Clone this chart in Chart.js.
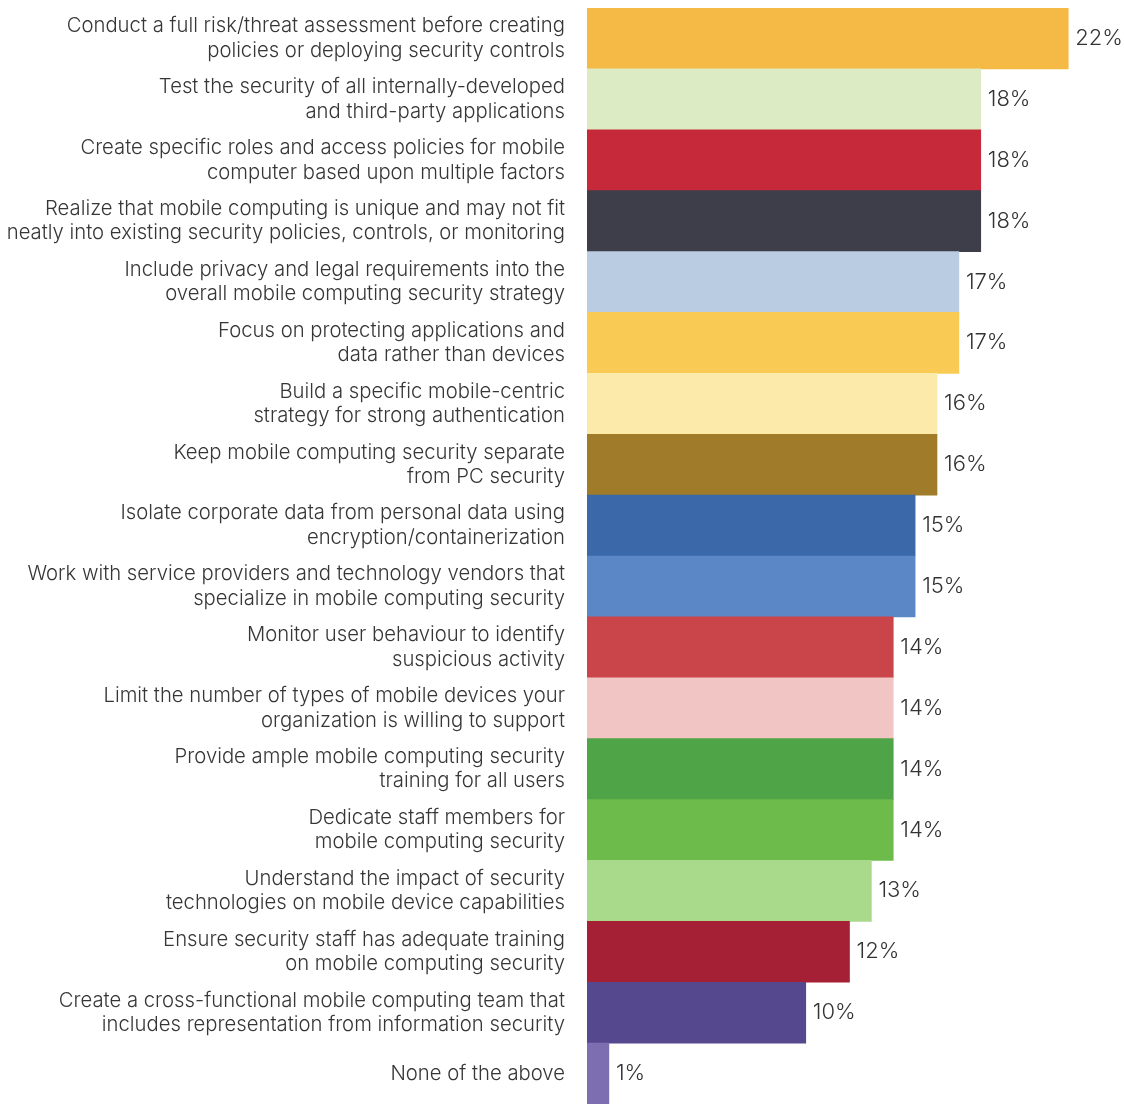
<!DOCTYPE html>
<html>
<head>
<meta charset="utf-8">
<script src="https://cdn.jsdelivr.net/npm/chart.js@4.4.1/dist/chart.umd.min.js"></script>
<style>
  html, body { margin: 0; padding: 0; background: #ffffff; }
  #wrap { width: 1124px; height: 1104px; position: relative; }
</style>
</head>
<body>
<div id="wrap"><canvas id="grafico"></canvas></div>
<script>
var etiquetas = [
  ["Conduct a full risk/threat assessment before creating", "policies or deploying security controls"],
  ["Test the security of all internally-developed", "and third-party applications"],
  ["Create specific roles and access policies for mobile", "computer based upon multiple factors"],
  ["Realize that mobile computing is unique and may not fit", "neatly into existing security policies, controls, or monitoring"],
  ["Include privacy and legal requirements into the", "overall mobile computing security strategy"],
  ["Focus on protecting applications and", "data rather than devices"],
  ["Build a specific mobile-centric", "strategy for strong authentication"],
  ["Keep mobile computing security separate", "from PC security"],
  ["Isolate corporate data from personal data using", "encryption/containerization"],
  ["Work with service providers and technology vendors that", "specialize in mobile computing security"],
  ["Monitor user behaviour to identify", "suspicious activity"],
  ["Limit the number of types of mobile devices your", "organization is willing to support"],
  ["Provide ample mobile computing security", "training for all users"],
  ["Dedicate staff members for", "mobile computing security"],
  ["Understand the impact of security", "technologies on mobile device capabilities"],
  ["Ensure security staff has adequate training", "on mobile computing security"],
  ["Create a cross-functional mobile computing team that", "includes representation from information security"],
  "None of the above"
];
var porcentajes = [22, 18, 18, 18, 17, 17, 16, 16, 15, 15, 14, 14, 14, 14, 13, 12, 10, 1];
var colores = [
  '#F4BA45', '#DCEBC3', '#C62A3A', '#3D3E4A', '#B9CCE2', '#F9CB55',
  '#FCEAAA', '#A07C2A', '#3A68A8', '#5C87C6', '#CA4549', '#F1C5C3',
  '#50A448', '#6DBC4B', '#A9D98A', '#A52034', '#56488F', '#7D6EB2'
];

var fuente = 'Inter, "Noto Sans", sans-serif';

// draws the "22%" style labels at the end of each bar
var valores = {
  id: 'valores',
  afterDatasetsDraw: function (chart) {
    var ctx = chart.ctx;
    var meta = chart.getDatasetMeta(0);
    ctx.save();
    ctx.font = '300 22px ' + fuente;
    ctx.fillStyle = '#333333';
    ctx.textAlign = 'left';
    ctx.textBaseline = 'middle';
    meta.data.forEach(function (bar, i) {
      ctx.fillText(porcentajes[i] + '%', bar.x + 7, bar.y);
    });
    ctx.restore();
  }
};

var ctx = document.getElementById('grafico');

new Chart(ctx, {
  type: 'bar',
  data: {
    labels: etiquetas,
    datasets: [{
      data: porcentajes,
      backgroundColor: colores,
      borderWidth: 0,
      barPercentage: 1,
      categoryPercentage: 1
    }]
  },
  options: {
    indexAxis: 'y',
    responsive: true,
    maintainAspectRatio: false,
    animation: false,
    layout: { padding: { top: 8, right: 12, bottom: 0, left: 0 } },
    plugins: {
      legend: { display: false },
      tooltip: { enabled: false }
    },
    scales: {
      x: {
        display: false,
        min: 0,
        max: 24
      },
      y: {
        afterFit: function (scale) {
          scale.width = 587;
          scale.paddingTop = 0; // labels fit inside their rows, no extra room needed
          scale.paddingBottom = 0;
        },
        grid: { display: false, drawTicks: true, tickLength: 22 },
        border: { display: false },
        ticks: {
          autoSkip: false,
          padding: 0,
          color: '#363636',
          font: { family: fuente, size: 20.3, weight: 300, lineHeight: 1.2 }
        }
      }
    }
  },
  plugins: [valores]
});
</script>
</body>
</html>
